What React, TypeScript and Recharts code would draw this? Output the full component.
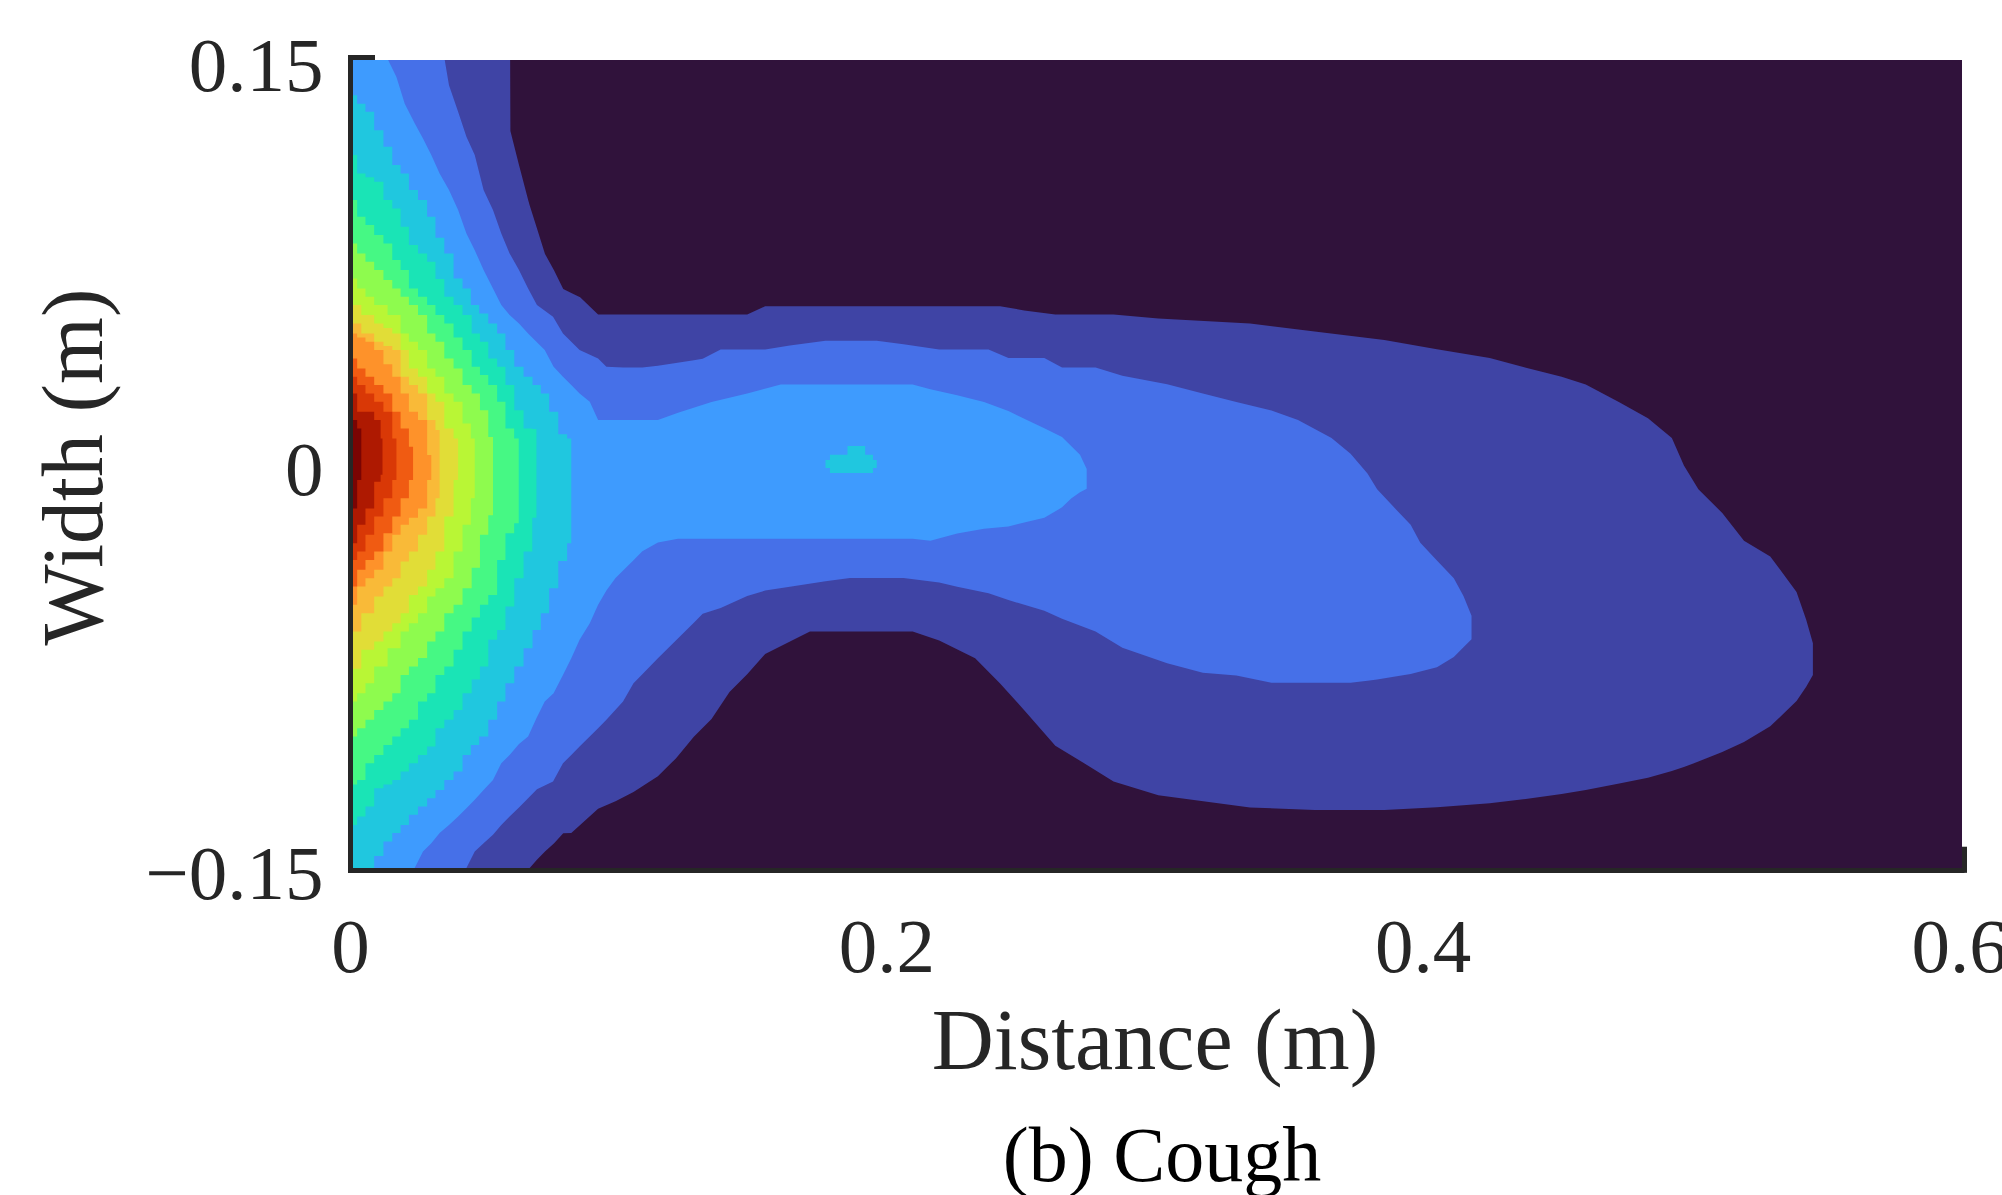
import React from 'react';
import { ComposedChart, Area, XAxis, YAxis, ReferenceLine } from 'recharts';

// Contour bands: each row is [distance, upper width, lower width]
const level0 = [[0, 0.15, -0.15], [0.6, 0.15, -0.15]];
const level1 = [[0,.15,-.15],[.02,.15,-.15],[.0586,.15,-.15],[.0587,.1236,-.15],[.0620,.1106,-.15],[.0654,.0977,-.15],[.0659,.096,-.15],[.0685,.0878,-.1470],[.0716,.0780,-.1439],[.0750,.0718,-.1408],[.0784,.0650,-.1371],[.0814,.0635,-.1370],[.0847,.0619,-.1340],[.0914,.0555,-.1280],[.0979,.0555,-.1252],[.1046,.0555,-.1218],[.1137,.0555,-.1159],[.1204,.0555,-.1093],[.1271,.0555,-.1013],[.1337,.0555,-.0947],[.1404,.0555,-.0847],[.1470,.0555,-.0781],[.1537,.0586,-.0705],[.1637,.0586,-.0655],[.1704,.0586,-.0622],[.2087,.0586,-.0622],[.2186,.0586,-.0655],[.2320,.0586,-.0721],[.2413,.0586,-.0815],[.2503,.0570,-.0914],[.2619,.0555,-.1046],[.2728,.0555,-.1112],[.2836,.0555,-.1179],[.3003,.0540,-.1230],[.3345,.0522,-.1275],[.3586,.0492,-.1285],[.3846,.0460,-.1285],[.4042,.0426,-.1274],[.4239,.0394,-.1260],[.4364,.0360,-.1245],[.4507,.0324,-.1225],[.4597,.0295,-.1210],[.4722,.0229,-.1186],[.4829,.0170,-.1165],[.4918,.0097,-.1140],[.4963,-.0006,-.1125],[.5017,-.0094,-.1105],[.5106,-.0182,-.1069],[.5187,-.0285,-.1032],[.5285,-.0343,-.0974],[.5383,-.0475,-.0880],[.5419,-.0578,-.0827],[.5444,-.0666,-.0783]];
const level2 = [[0,.15,-.15],[.0342,.15,-.15],[.0358,.1406,-.15],[.0392,.1308,-.15],[.0423,.1215,-.15],[.0454,.1147,-.1439],[.0487,.1017,-.1408],[.0522,.0943,-.1377],[.0553,.0856,-.1340],[.0584,.0782,-.1309],[.0619,.0720,-.1275],[.0653,.0652,-.1241],[.0686,.0590,-.1208],[.0746,.0547,-.1179],[.0783,.0485,-.1111],[.0814,.0454,-.1080],[.0845,.0423,-.1049],[.0914,.0392,-.0981],[.0945,.0361,-.0950],[.1007,.0358,-.0882],[.1046,.0358,-.0814],[.1079,.0358,-.0781],[.1137,.0365,-.0721],[.1204,.0375,-.0655],[.1271,.0385,-.0589],[.1304,.0391,-.0556],[.1371,.0425,-.0535],[.1470,.0425,-.0490],[.1537,.0425,-.0470],[.1629,.0440,-.0456],[.1762,.0458,-.0435],[.1853,.0458,-.0423],[.1953,.0458,-.0423],[.2053,.0445,-.0423],[.2186,.0425,-.0440],[.2253,.0425,-.0456],[.2370,.0425,-.0480],[.2444,.0394,-.0505],[.2578,.0394,-.0545],[.2644,.0358,-.0575],[.2769,.0358,-.0622],[.2869,.0328,-.0682],[.3036,.0296,-.0740],[.3169,.0262,-.0775],[.3294,.0230,-.0785],[.3425,.0199,-.0812],[.3524,.0163,-.0812],[.3649,.0097,-.0812],[.3720,.0038,-.0812],[.3783,-.0035,-.0805],[.3819,-.0094,-.0800],[.3881,-.0160,-.0790],[.3944,-.0226,-.0780],[.3980,-.0292,-.0770],[.4042,-.0358,-.0755],[.4105,-.0424,-.0717],[.4141,-.0490,-.0680],[.4171,-.0563,-.0651]];
const level3 = [[0,.15,-.15],[.0131,.15,-.15],[.0162,.1437,-.15],[.0193,.1338,-.15],[.0230,.1265,-.15],[.0261,.1209,-.1439],[.0292,.1147,-.1408],[.0323,.1079,-.1370],[.0358,.1017,-.1340],[.0392,.0943,-.1309],[.0423,.0856,-.1278],[.0454,.0794,-.1247],[.0487,.0720,-.1210],[.0522,.0652,-.1173],[.0553,.0590,-.1111],[.0584,.0553,-.1080],[.0619,.0522,-.1040],[.0653,.0485,-.1012],[.0684,.0454,-.0944],[.0715,.0423,-.0882],[.0748,.0361,-.0851],[.0783,.0324,-.0783],[.0814,.0293,-.0721],[.0845,.0262,-.0653],[.0883,.0231,-.0591],[.0914,.0163,-.0523],[.0945,.0163,-.0470],[.0979,.0163,-.0423],[.1013,.0163,-.0390],[.1046,.0163,-.0357],[.1079,.0163,-.0324],[.1137,.0163,-.0291],[.1212,.0190,-.0278],[.1337,.0230,-.0278],[.1470,.0262,-.0278],[.1595,.0295,-.0278],[.1953,.0295,-.0278],[.2087,.0295,-.0278],[.2153,.0278,-.0285],[.2253,.0255,-.0258],[.2353,.0230,-.0240],[.2444,.0197,-.0232],[.2511,.0164,-.0215],[.2578,.0133,-.0200],[.2644,.0100,-.0161],[.2678,.0067,-.0128],[.2711,.0034,-.0105],[.2736,-.0019,-.0092]];
const level4 = [[0,.1369,-.15],[.0031,.1338,-.15],[.0062,.1308,-.15],[.0096,.1239,-.1455],[.0131,.1178,-.1402],[.0162,.1110,-.1370],[.0193,.1079,-.1340],[.0224,.1017,-.1302],[.0261,.0980,-.1272],[.0292,.0918,-.1241],[.0323,.0840,-.1210],[.0358,.0782,-.1173],[.0392,.0689,-.1142],[.0425,.0652,-.1080],[.0454,.0590,-.1043],[.0487,.0559,-.1012],[.0522,.0522,-.0950],[.0553,.0485,-.0882],[.0584,.0423,-.0814],[.0619,.0361,-.0752],[.0653,.0324,-.0684],[.0686,.0293,-.0616],[.0715,.0262,-.0554],[.0748,.0194,-.0461],[.0783,.0110,-.0360],[.0814,.0095,-.0294]];
const level4Island = [[.1762,.0015,-.0015],[.1795,.0034,-.0033],[.1828,.0034,-.0033],[.1860,.0067,-.0033],[.1895,.0067,-.0033],[.1925,.0034,-.0033],[.1953,.0015,-.0015]];
const level5 = [[0,.1147,-.1340],[.0031,.1079,-.1309],[.0062,.1065,-.1272],[.0096,.1048,-.1204],[.0131,.0980,-.1190],[.0162,.0949,-.1173],[.0193,.0881,-.1142],[.0224,.0813,-.1111],[.0261,.0782,-.1080],[.0292,.0751,-.1049],[.0323,.0687,-.0981],[.0358,.0621,-.0950],[.0392,.0590,-.0913],[.0425,.0553,-.0851],[.0460,.0485,-.0800],[.0487,.0454,-.0752],[.0522,.0392,-.0653],[.0553,.0361,-.0616],[.0584,.0293,-.0529],[.0619,.0200,-.0424],[.0653,.0132,-.0325],[.0684,.0130,-.0200]];
const level6 = [[0,.0980,-.1190],[.0031,.0918,-.1173],[.0062,.0887,-.1111],[.0096,.0850,-.1080],[.0131,.0819,-.1043],[.0162,.0757,-.1012],[.0193,.0720,-.0981],[.0224,.0652,-.0950],[.0261,.0621,-.0882],[.0292,.0590,-.0851],[.0323,.0553,-.0783],[.0358,.0522,-.0752],[.0392,.0470,-.0690],[.0425,.0423,-.0622],[.0460,.0361,-.0570],[.0487,.0330,-.0523],[.0522,.0293,-.0486],[.0553,.0231,-.0356],[.0584,.0132,-.0257],[.0618,.0095,-.0220]];
const level7 = [[0,.0819,-.1012],[.0031,.0782,-.0981],[.0062,.0751,-.0950],[.0096,.0720,-.0913],[.0131,.0683,-.0882],[.0162,.0652,-.0851],[.0193,.0621,-.0783],[.0224,.0590,-.0752],[.0261,.0553,-.0720],[.0292,.0485,-.0659],[.0323,.0454,-.0622],[.0358,.0392,-.0554],[.0392,.0355,-.0523],[.0425,.0293,-.0461],[.0460,.0262,-.0385],[.0487,.0200,-.0263],[.0522,.0100,-.0190]];
const level8 = [[0,.0689,-.0882],[.0031,.0652,-.0851],[.0062,.0621,-.0814],[.0096,.0590,-.0752],[.0162,.0553,-.0684],[.0193,.0485,-.0622],[.0224,.0454,-.0591],[.0261,.0423,-.0554],[.0292,.0355,-.0492],[.0323,.0324,-.0461],[.0358,.0262,-.0424],[.0392,.0231,-.0325],[.0425,.0150,-.0226],[.0454,.0095,-.0127]];
const level9 = [[0,.0590,-.0760],[.0062,.0553,-.0690],[.0096,.0522,-.0659],[.0131,.0505,-.0622],[.0162,.0485,-.0591],[.0193,.0423,-.0554],[.0224,.0355,-.0486],[.0261,.0324,-.0455],[.0292,.0262,-.0393],[.0323,.0231,-.0325],[.0358,.0132,-.0195],[.0392,.0095,-.0059]];
const level10 = [[0,.0522,-.0622],[.0062,.0485,-.0554],[.0096,.0454,-.0492],[.0131,.0438,-.0455],[.0162,.0423,-.0424],[.0193,.0324,-.0362],[.0224,.0293,-.0325],[.0261,.0262,-.0263],[.0292,.0163,-.0195],[.0323,.0126,-.0127]];
const level11 = [[0,.0485,-.0523],[.0031,.0470,-.0455],[.0062,.0454,-.0424],[.0096,.0423,-.0393],[.0131,.0370,-.0325],[.0162,.0324,-.0263],[.0193,.0262,-.0226],[.0224,.0194,-.0200],[.0261,.0163,-.0165],[.0292,.0033,-.0059]];
const level12 = [[0,.0392,-.0455],[.0031,.0355,-.0393],[.0062,.0324,-.0356],[.0096,.0293,-.0325],[.0131,.0262,-.0257],[.0162,.0194,-.0195],[.0193,.0132,-.0127],[.0224,.0064,-.0059]];
const level13 = [[0,.0324,-.0356],[.0031,.0293,-.0325],[.0062,.0262,-.0263],[.0096,.0231,-.0195],[.0131,.0194,-.0127],[.0162,.0095,-.0059]];
const level14 = [[0,.0262,-.0294],[.0031,.0194,-.0226],[.0062,.0194,-.0165],[.0096,.0163,-.0066],[.0110,.0095,-.0040]];
const level15 = [[0,.0163,-.0165],[.0031,.0132,-.0059]];

const xTicks = [0, 0.2, 0.4, 0.6];
const yTicks = [-0.15, 0, 0.15];
const xTickLabels = ['0', '0.2', '0.4', '0.6'];
const yTickLabels = ['\u22120.15', '0', '0.15'];
const xTitle = 'Distance (m)';
const yTitle = 'Width (m)';
const caption = '(b) Cough';

const levels = [level0, level1, level2, level3, level4, level4Island, level5, level6, level7, level8, level9, level10, level11, level12, level13, level14, level15];
const levelColors = ['#30123b', '#3f44a5', '#4670e8', '#3e9bfe', '#20c7df', '#20c7df', '#1ae4b6', '#46f884', '#8efb4e', '#b9f635', '#e1dd37', '#f9ba38', '#fe922a', '#f05b12', '#d93806', '#ae1901', '#7a0403'];

const toRows = (pts: number[][]) => pts.map(([x, hi, lo]) => ({ x, band: [lo, hi] }));

const INK = '#262626';
const SERIF = '"Liberation Serif", "Times New Roman", serif';

const XTick = ({ x, payload }: any) => (
  <text x={x - 2.5} y={972} textAnchor="middle" fontFamily={SERIF} fontSize={77} fill={INK}>
    {xTickLabels[xTicks.indexOf(payload.value)]}
  </text>
);
const YTick = ({ y, payload }: any) => (
  <text x={323.5} y={y + 31} textAnchor="end" fontFamily={SERIF} fontSize={77} fill={INK}>
    {yTickLabels[yTicks.indexOf(payload.value)]}
  </text>
);

export default function App() {
  return (
    <div style={{ position: 'absolute', left: 0, top: 0, width: 2002, height: 1195, background: '#fff' }}>
      <ComposedChart
        width={2002}
        height={1195}
        data={toRows(level0)}
        margin={{ left: 349.5, right: 37.5, top: 57.5, bottom: 323.5 }}
      >
        <XAxis
          type="number"
          dataKey="x"
          domain={[-0.00093, 0.60093]}
          allowDataOverflow
          ticks={xTicks}
          interval={0}
          height={1}
          tickLine={false}
          axisLine={{ stroke: INK, strokeWidth: 5 }}
          tick={<XTick />}
        />
        <YAxis
          type="number"
          domain={[-0.15093, 0.15093]}
          allowDataOverflow
          ticks={yTicks}
          interval={0}
          width={1}
          tickLine={false}
          axisLine={{ stroke: INK, strokeWidth: 5 }}
          tick={<YTick />}
        />
        {levels.map((pts, i) => (
          <Area
            key={i}
            data={toRows(pts)}
            dataKey="band"
            type={i >= 4 ? 'step' : 'linear'}
            stroke="none"
            fill={levelColors[i]}
            fillOpacity={1}
            dot={false}
            activeDot={false}
            isAnimationActive={false}
            legendType="none"
          />
        ))}
        <ReferenceLine ifOverflow="visible" stroke={INK} strokeWidth={5} segment={[{ x: -0.00186, y: 0.15093 }, { x: 0.0082, y: 0.15093 }]} />
        <ReferenceLine ifOverflow="visible" stroke={INK} strokeWidth={5} segment={[{ x: 0.60093, y: -0.1421 }, { x: 0.60093, y: -0.1518 }]} />
        <ReferenceLine ifOverflow="visible" stroke={INK} strokeWidth={5} segment={[{ x: -0.00186, y: -0.15093 }, { x: 0, y: -0.15093 }]} />
        <text x={1155} y={1069} textAnchor="middle" fontFamily={SERIF} fontSize={86} fill={INK}>{xTitle}</text>
        <text x={102} y={467} textAnchor="middle" transform="rotate(-90 102 467)" fontFamily={SERIF} fontSize={86} fill={INK}>{yTitle}</text>
        <text x={1162} y={1181} textAnchor="middle" fontFamily={SERIF} fontSize={78} fill="#000">{caption}</text>
      </ComposedChart>
    </div>
  );
}
